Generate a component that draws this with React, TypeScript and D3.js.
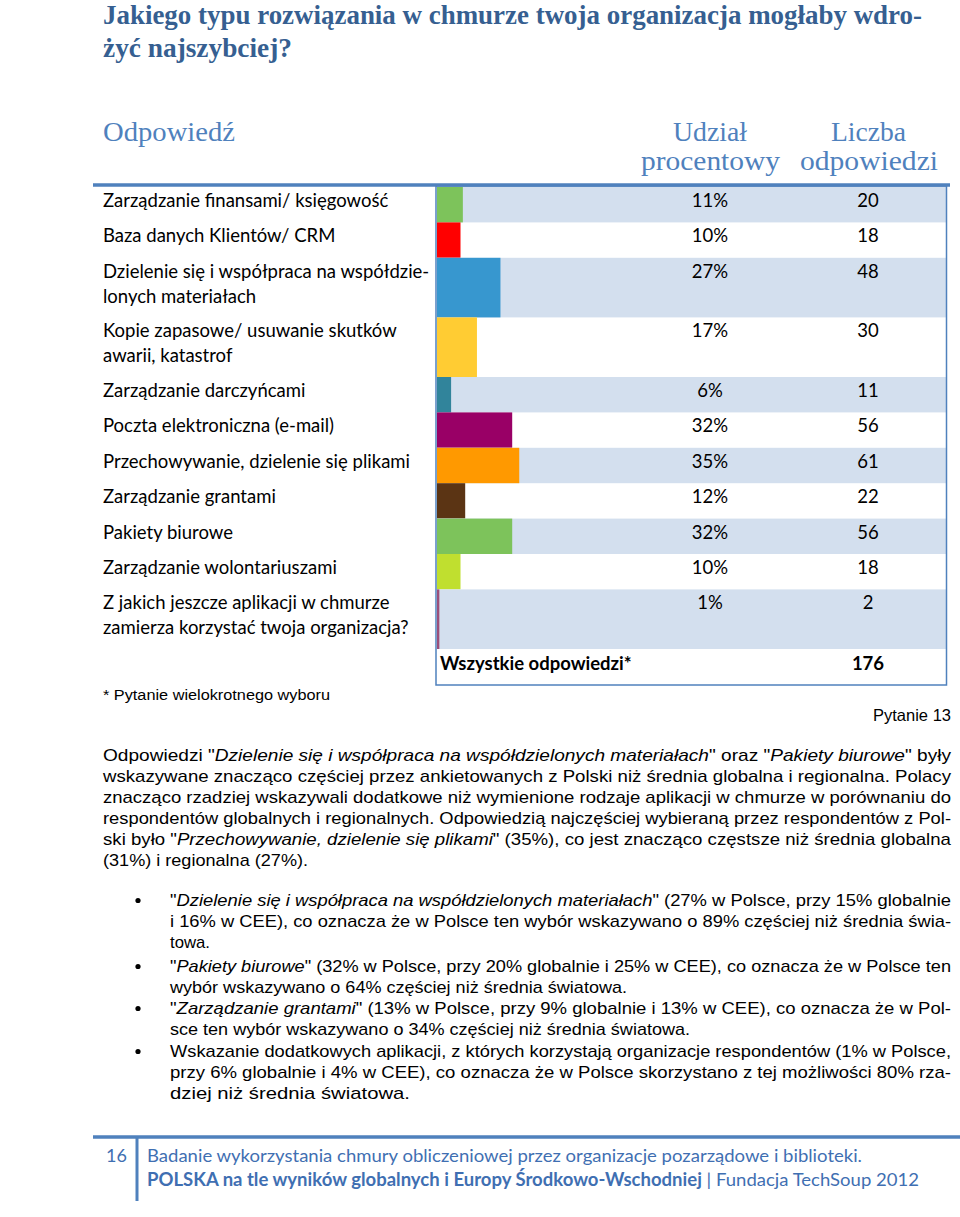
import React from "react";
import * as d3 from "d3";

// ---------- DATA ----------
const titleLines = [
  "Jakiego typu rozwiązania w chmurze twoja organizacja mogłaby wdro-",
  "żyć najszybciej?",
];
const headerAnswer = "Odpowiedź";
const headerPercent = ["Udział", "procentowy"];
const headerCount = ["Liczba", "odpowiedzi"];

const categories: string[][] = [
  ["Zarządzanie finansami/ księgowość"],
  ["Baza danych Klientów/ CRM"],
  ["Dzielenie się i współpraca na współdzie-", "lonych materiałach"],
  ["Kopie zapasowe/ usuwanie skutków", "awarii, katastrof"],
  ["Zarządzanie darczyńcami"],
  ["Poczta elektroniczna (e-mail)"],
  ["Przechowywanie, dzielenie się plikami"],
  ["Zarządzanie grantami"],
  ["Pakiety biurowe"],
  ["Zarządzanie wolontariuszami"],
  ["Z jakich jeszcze aplikacji w chmurze", "zamierza korzystać twoja organizacja?"],
];
const percents = [11, 10, 27, 17, 6, 32, 35, 12, 32, 10, 1];
const counts = [20, 18, 48, 30, 11, 56, 61, 22, 56, 18, 2];
const barColors = [
  "#7dc35b", "#ff0000", "#3797cf", "#ffcc33", "#31849b", "#990066",
  "#ff9900", "#5b3414", "#7dc35b", "#c0df2f", "#9b4f7a",
];
const totalLabel = "Wszystkie odpowiedzi*";
const totalCount = 176;
const footnote = "* Pytanie wielokrotnego wyboru";
const questionNo = "Pytanie 13";

type Seg = [string, boolean];
const paragraph: Seg[][] = [
  [["Odpowiedzi \"", false], ["Dzielenie się i współpraca na współdzielonych materiałach", true], ["\" oraz \"", false], ["Pakiety biurowe", true], ["\" były", false]],
  [["wskazywane znacząco częściej przez ankietowanych z Polski niż średnia globalna i regionalna. Polacy", false]],
  [["znacząco rzadziej wskazywali dodatkowe niż wymienione rodzaje aplikacji w chmurze w porównaniu do", false]],
  [["respondentów globalnych i regionalnych. Odpowiedzią najczęściej wybieraną przez respondentów z Pol-", false]],
  [["ski było \"", false], ["Przechowywanie, dzielenie się plikami", true], ["\" (35%), co jest znacząco częstsze niż średnia globalna", false]],
  [["(31%) i regionalna (27%).", false]],
];
const paragraphEnds = [951, 951, 951, 951, 951, 308];

const bullets: Seg[][][] = [
  [
    [["\"", false], ["Dzielenie się i współpraca na współdzielonych materiałach", true], ["\" (27% w Polsce, przy 15% globalnie", false]],
    [["i 16% w CEE), co oznacza że w Polsce ten wybór wskazywano o 89% częściej niż średnia świa-", false]],
    [["towa.", false]],
  ],
  [
    [["\"", false], ["Pakiety biurowe", true], ["\" (32% w Polsce, przy 20% globalnie i 25% w CEE), co oznacza że w Polsce ten", false]],
    [["wybór wskazywano o 64% częściej niż średnia światowa.", false]],
  ],
  [
    [["\"", false], ["Zarządzanie grantami", true], ["\" (13% w Polsce, przy 9% globalnie i 13% w CEE), co oznacza że w Pol-", false]],
    [["sce ten wybór wskazywano o 34% częściej niż średnia światowa.", false]],
  ],
  [
    [["Wskazanie dodatkowych aplikacji, z których korzystają organizacje respondentów  (1% w Polsce,", false]],
    [["przy 6% globalnie i 4% w CEE), co oznacza że w Polsce skorzystano z tej możliwości 80% rza-", false]],
    [["dziej niż średnia światowa.", false]],
  ],
];
const bulletEnds = [[951, 951, 210], [951, 627], [951, 690], [951, 951, 410]];

const footerLine1 = "Badanie wykorzystania chmury obliczeniowej przez organizacje pozarządowe i biblioteki.";
const footerBold = "POLSKA na tle wyników globalnych i Europy Środkowo-Wschodniej";
const footerRest = " | Fundacja TechSoup 2012";
const pageNo = "16";

// ---------- LAYOUT ----------
const W = 960;
const H = 1217;
const BLUE = "#4f81bd";
const TITLE = "#365f91";
const ROWBG = "#d3dfee";
const LABEL_FONT = "Lato, 'Open Sans', sans-serif";
const ARIAL = "'Liberation Sans', Arial, sans-serif";
const SERIF = "'Liberation Serif', serif";

const tableLeft = 437;
const tableRight = 946.5;
const rowsTop = 187;
const singleH = 35.4;
const doubleH = 59.6;
const pctX = 710;
const cntX = 868;

export default function App() {
  const x = d3.scaleLinear().domain([0, 100]).range([tableLeft, tableLeft + 235]);
  const heights = categories.map((c) => (c.length > 1 ? doubleH : singleH));
  const tops = heights.map((_, i) => rowsTop + d3.sum(heights.slice(0, i)));
  const rowsBottom = rowsTop + d3.sum(heights);
  const boxBottom = 685;

  const renderSegs = (segs: Seg[]) =>
    segs.map(([t, it], k) => (
      <tspan key={k} fontStyle={it ? "italic" : "normal"}>{t}</tspan>
    ));

  const paraBase = 761;
  const lh = 21;
  const bulletBases = [[906, 927, 948], [972, 993], [1014, 1035], [1057, 1078, 1099]];

  return (
    <svg width={W} height={H} style={{ position: "absolute", left: 0, top: 0 }} xmlns="http://www.w3.org/2000/svg">
      <rect width={W} height={H} fill="#fff" />
      {/* Title */}
      <text x={103} y={24} fontFamily={SERIF} fontWeight="bold" fontSize={27} fill={TITLE}
        textLength={819} lengthAdjust="spacingAndGlyphs">{titleLines[0]}</text>
      <text x={103} y={57} fontFamily={SERIF} fontWeight="bold" fontSize={27} fill={TITLE}
        textLength={189} lengthAdjust="spacingAndGlyphs">{titleLines[1]}</text>

      {/* Headers */}
      <g fontFamily={SERIF} fontSize={28} fill={BLUE}>
        <text x={103} y={141} textLength={132} lengthAdjust="spacingAndGlyphs">{headerAnswer}</text>
        <text x={673} y={141} textLength={74} lengthAdjust="spacingAndGlyphs">{headerPercent[0]}</text>
        <text x={641} y={170} textLength={139} lengthAdjust="spacingAndGlyphs">{headerPercent[1]}</text>
        <text x={831} y={141} textLength={75} lengthAdjust="spacingAndGlyphs">{headerCount[0]}</text>
        <text x={800} y={170} textLength={138} lengthAdjust="spacingAndGlyphs">{headerCount[1]}</text>
      </g>

      {/* Rows */}
      {categories.map((lines, i) => (
        <g key={i}>
          {i % 2 === 0 && (
            <rect x={tableLeft} y={tops[i]} width={tableRight - tableLeft} height={heights[i]} fill={ROWBG} />
          )}
          <rect x={x(0)} y={tops[i]} width={x(percents[i]) - x(0)} height={heights[i]} fill={barColors[i]} />
          {lines.map((l, j) => (
            <text key={j} x={103} y={tops[i] + 20 + j * 25} fontFamily={LABEL_FONT} fontSize={18.5} fill="#000">{l}</text>
          ))}
          <text x={pctX} y={tops[i] + 20} textAnchor="middle" fontFamily={LABEL_FONT} fontSize={18.5}>{percents[i]}%</text>
          <text x={cntX} y={tops[i] + 20} textAnchor="middle" fontFamily={LABEL_FONT} fontSize={18.5}>{counts[i]}</text>
        </g>
      ))}
      {/* Total */}
      <text x={440} y={rowsBottom + 21} fontFamily={LABEL_FONT} fontWeight="bold" fontSize={18.5}>{totalLabel}</text>
      <text x={cntX} y={rowsBottom + 21} textAnchor="middle" fontFamily={LABEL_FONT} fontWeight="bold" fontSize={18.5}>{totalCount}</text>

      {/* Table frame */}
      <rect x={436} y={186} width={tableRight - 436} height={boxBottom - 186} fill="none" stroke={BLUE} strokeWidth={1.5} />
      <line x1={93} x2={950} y1={185} y2={185} stroke={BLUE} strokeWidth={3.5} />

      {/* Notes */}
      <text x={103} y={700} fontFamily={ARIAL} fontSize={15.5} textLength={227} lengthAdjust="spacingAndGlyphs">{footnote}</text>
      <text x={951} y={721} textAnchor="end" fontFamily={ARIAL} fontSize={16.5}>{questionNo}</text>

      {/* Paragraph */}
      <g fontFamily={ARIAL} fontSize={17} fill="#000">
        {paragraph.map((segs, i) => (
          <text key={i} x={103} y={paraBase + i * lh} textLength={paragraphEnds[i] - 103} lengthAdjust="spacingAndGlyphs">
            {renderSegs(segs)}
          </text>
        ))}
        {bullets.map((b, i) => (
          <g key={i}>
            <circle cx={138} cy={bulletBases[i][0] - 5.5} r={2.6} fill="#000" />
            {b.map((segs, j) => (
              <text key={j} x={170} y={bulletBases[i][j]} textLength={bulletEnds[i][j] - 170} lengthAdjust="spacingAndGlyphs">
                {renderSegs(segs)}
              </text>
            ))}
          </g>
        ))}
      </g>

      {/* Footer */}
      <line x1={93} x2={960} y1={1137} y2={1137} stroke={BLUE} strokeWidth={3.5} />
      <line x1={137} x2={137} y1={1137} y2={1201} stroke={BLUE} strokeWidth={3} />
      <g fontFamily={LABEL_FONT} fontSize={18} fill="#3f6fb2">
        <text x={127} y={1162} textAnchor="end">{pageNo}</text>
        <text x={147} y={1162} textLength={715} lengthAdjust="spacingAndGlyphs">{footerLine1}</text>
        <text x={147} y={1186} textLength={772} lengthAdjust="spacingAndGlyphs">
          <tspan fontWeight="bold">{footerBold}</tspan>
          <tspan>{footerRest}</tspan>
        </text>
      </g>
    </svg>
  );
}
